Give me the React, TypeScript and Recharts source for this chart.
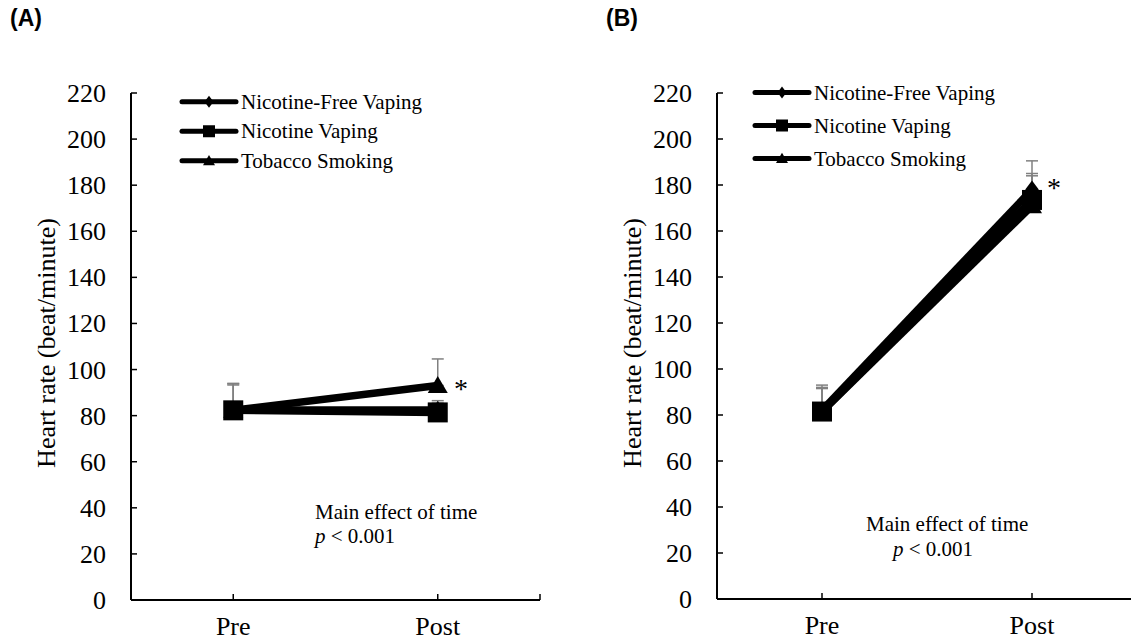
import { LineChart, Line, XAxis, YAxis, ErrorBar, Legend } from 'recharts'

const times = ['Pre', 'Post']
const seriesNames = ['Nicotine-Free Vaping', 'Nicotine Vaping', 'Tobacco Smoking']
const yTicks = [0, 20, 40, 60, 80, 100, 120, 140, 160, 180, 200, 220]

// panel A: heart rate before / after, mean and SD (upper only)
const nfvA = [82.5, 82.5]
const nvA = [82.3, 81.4]
const tsA = [82.3, 93.1]
const nfvErrA = [11.5, 4]
const nvErrA = [11.5, 4]
const tsErrA = [11, 11.5]

// panel B
const nfvB = [82, 178]
const nvB = [81.5, 173.5]
const tsB = [81.5, 171]
const nfvErrB = [11, 12.5]
const nvErrB = [10.5, 11.5]
const tsErrB = [10, 13]

const serif = '"Liberation Serif", "Times New Roman", serif'
const keys = ['nfv', 'nv', 'ts']
const kinds = ['diamond', 'square', 'triangle']

const build = (nfv: number[], nv: number[], ts: number[], eNfv: number[], eNv: number[], eTs: number[]) =>
  times.map((t, i) => ({
    x: i,
    time: t,
    nfv: nfv[i],
    nv: nv[i],
    ts: ts[i],
    nfvErr: [0, eNfv[i]],
    nvErr: [0, eNv[i]],
    tsErr: [0, eTs[i]],
  }))

const dataA = build(nfvA, nvA, tsA, nfvErrA, nvErrA, tsErrA)
const dataB = build(nfvB, nvB, tsB, nfvErrB, nvErrB, tsErrB)

const marker = (kind: string, cx: number, cy: number, r: number, key?: string | number) => {
  if (kind === 'diamond')
    return <path key={key} d={`M${cx},${cy - r}L${cx + r * 0.75},${cy}L${cx},${cy + r}L${cx - r * 0.75},${cy}Z`} fill="#000" />
  if (kind === 'square')
    return <rect key={key} x={cx - r} y={cy - r} width={r * 2} height={r * 2} fill="#000" />
  return <path key={key} d={`M${cx},${cy - r * 0.95}L${cx + r},${cy + r * 0.75}L${cx - r},${cy + r * 0.75}Z`} fill="#000" />
}

const XTick = (props: any) => {
  const { x, y, payload } = props
  const label = times[payload.value]
  return (
    <g>
      <line x1={x} x2={x} y1={y} y2={y - 6} stroke="#000" strokeWidth={1.5} />
      {label && (
        <text x={x} y={y + 35} textAnchor="middle" fontSize={26} fontFamily={serif} fill="#000">
          {label}
        </text>
      )}
    </g>
  )
}

const YTick = (props: any) => {
  const { x, y, payload } = props
  return (
    <g>
      <line x1={x} x2={x + 6} y1={y} y2={y} stroke="#000" strokeWidth={1.5} />
      <text x={x - 25} y={y + 9} textAnchor="end" fontSize={26} fontFamily={serif} fill="#000">
        {payload.value}
      </text>
    </g>
  )
}

const legendContent = (rowH: number) => () => (
  <svg width={320} height={rowH * 3}>
    {seriesNames.map((name, i) => {
      const cy = rowH * i + rowH / 2
      return (
        <g key={name}>
          <line x1={3} x2={57} y1={cy} y2={cy} stroke="#000" strokeWidth={5} strokeLinecap="round" />
          {marker(kinds[i], 30, cy, 6)}
          <text x={62} y={cy + 7} fontSize={21} fontFamily={serif} fill="#000">
            {name}
          </text>
        </g>
      )
    })}
  </svg>
)

function Panel({ data, width, margin, legendPos, rowH }: any) {
  const sizes = [9, 10, 10]
  return (
    <LineChart width={width} height={642} data={data} margin={margin}>
      <XAxis
        dataKey="x"
        type="number"
        domain={[-0.5, 1.5]}
        ticks={[0, 1, 1.5]}
        allowDataOverflow
        height={30}
        tickSize={0}
        tickMargin={0}
        tickLine={false}
        axisLine={{ stroke: '#000', strokeWidth: 2 }}
        tick={<XTick />}
        interval={0}
      />
      <YAxis
        domain={[0, 220]}
        ticks={yTicks}
        width={60}
        tickSize={0}
        tickMargin={0}
        tickLine={false}
        axisLine={{ stroke: '#000', strokeWidth: 2 }}
        tick={<YTick />}
        interval={0}
      />
      <Legend
        layout="vertical"
        align="center"
        verticalAlign="middle"
        content={legendContent(rowH)}
        wrapperStyle={{ left: legendPos[0], top: legendPos[1], width: 320 }}
      />
      {/* error bars first so the markers sit on top of them */}
      {keys.map((k) => (
        <Line
          key={`${k}-err`}
          dataKey={k}
          stroke="none"
          dot={false}
          activeDot={false}
          legendType="none"
          isAnimationActive={false}
        >
          <ErrorBar dataKey={`${k}Err`} direction="y" width={6} stroke="#808080" strokeWidth={1.5} />
        </Line>
      ))}
      {keys.map((k, i) => (
        <Line
          key={k}
          dataKey={k}
          name={seriesNames[i]}
          stroke="#000"
          strokeWidth={7.5}
          isAnimationActive={false}
          dot={(p: any) => marker(kinds[i], p.cx, p.cy, sizes[i], `${k}-${p.index}`)}
          activeDot={false}
        />
      ))}
    </LineChart>
  )
}

const abs = (left: number, top: number, extra: any = {}) => ({
  position: 'absolute' as const,
  left,
  top,
  fontFamily: serif,
  color: '#000',
  whiteSpace: 'nowrap' as const,
  lineHeight: 1,
  ...extra,
})

const sans = '"Liberation Sans", Arial, sans-serif'

export default function App() {
  return (
    <div style={{ position: 'absolute', left: 0, top: 0, width: 1131, height: 642, background: '#fff', overflow: 'hidden' }}>
      <div style={{ position: 'absolute', left: 0, top: 0 }}>
        <Panel data={dataA} width={560} margin={{ top: 93, right: 20, bottom: 12, left: 71 }} legendPos={[179, 87]} rowH={29.5} />
      </div>
      <div style={{ position: 'absolute', left: 560, top: 0 }}>
        <Panel data={dataB} width={580} margin={{ top: 93, right: 3, bottom: 13, left: 97 }} legendPos={[192, 76]} rowH={33} />
      </div>

      <div style={abs(10, 7, { fontFamily: sans, fontWeight: 700, fontSize: 23 })}>(A)</div>
      <div style={abs(606, 7, { fontFamily: sans, fontWeight: 700, fontSize: 23 })}>(B)</div>

      <div style={abs(47, 343, { fontSize: 26, transform: 'translate(-50%, -50%) rotate(-90deg)' })}>Heart rate (beat/minute)</div>
      <div style={abs(633, 343, { fontSize: 26, transform: 'translate(-50%, -50%) rotate(-90deg)' })}>Heart rate (beat/minute)</div>

      <div style={abs(315, 502, { fontSize: 21 })}>Main effect of time</div>
      <div style={abs(315, 526, { fontSize: 21 })}>
        <i>p</i> &lt; 0.001
      </div>
      <div style={abs(866, 514, { fontSize: 21 })}>Main effect of time</div>
      <div style={abs(893, 539, { fontSize: 21 })}>
        <i>p</i> &lt; 0.001
      </div>

      <div style={abs(454, 375, { fontSize: 28 })}>*</div>
      <div style={abs(1047, 174, { fontSize: 28 })}>*</div>
    </div>
  )
}
